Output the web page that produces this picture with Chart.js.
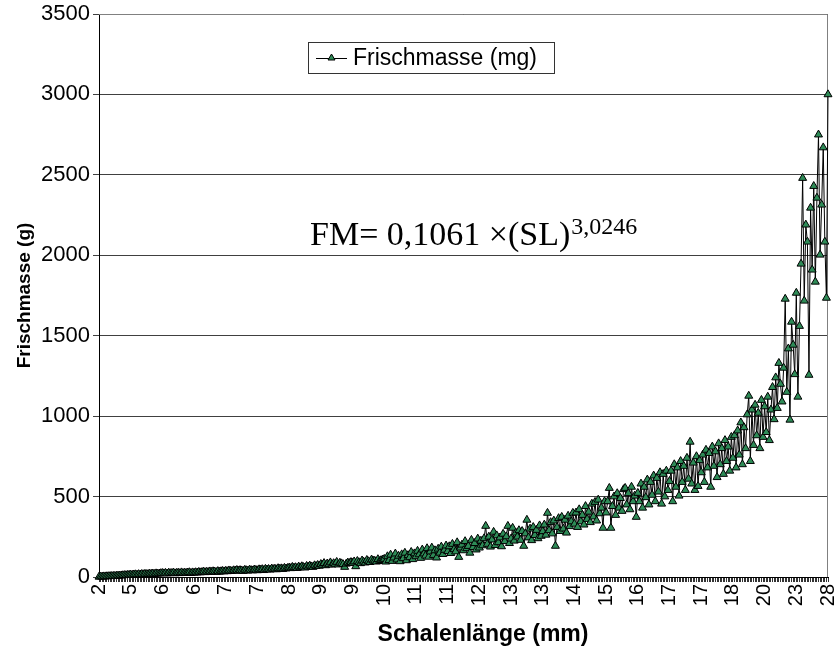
<!DOCTYPE html>
<html lang="de">
<head>
<meta charset="UTF-8">
<title>Frischmasse</title>
<script src="https://cdn.jsdelivr.net/npm/chart.js"></script>
<style>
  html, body { margin: 0; padding: 0; background: #fff; }
  #wrap { width: 834px; height: 650px; }
</style>
</head>
<body>
<div id="wrap"><canvas id="myChart" width="834" height="650"></canvas></div>
<script>
// Schalenlaenge (mm) shown under every 20th point
const tickLabels = ['2','5','6','6','7','7','8','9','9','10','11','11','12','13','13','14','15','16','17','17','18','20','23','28'];
const pointsPerTick = 20;
const yTicks = [0, 500, 1000, 1500, 2000, 2500, 3000, 3500];

// Frischmasse (mg), sorted by shell length
const masses = [
  1,2,2,3,3,4,4,5,5,6,6,7,8,8,9,10,11,11,12,13,
  14,13,15,16,14,17,15,18,16,19,17,18,20,19,21,18,22,20,21,23,
  24,22,25,21,26,23,24,27,22,25,26,23,28,24,26,25,27,29,24,28,
  26,29,27,31,28,30,33,29,32,30,34,31,35,33,30,36,32,35,37,34,
  38,35,40,37,36,41,39,43,38,42,40,37,44,41,39,45,42,40,46,43,
  41,47,44,48,42,50,46,49,45,52,48,51,47,54,50,53,49,56,52,55,
  58,54,62,57,60,55,64,59,66,61,58,68,63,70,65,62,72,67,74,69,
  80,75,86,72,83,78,90,76,85,81,93,77,88,84,79,62,82,89,86,92,
  87,96,66,99,91,85,102,94,89,105,97,92,108,101,100,95,110,98,104,107,
  112,95,128,104,138,99,120,145,108,131,97,140,116,150,103,135,122,155,110,146,
  128,162,140,118,170,145,132,178,125,158,182,136,165,120,175,150,188,142,168,195,
  160,190,148,205,172,158,215,124,182,200,165,222,178,192,150,230,185,210,170,238,
  182,225,196,240,317,205,250,188,232,280,198,258,215,245,190,268,222,252,317,210,
  238,305,225,275,250,290,230,285,193,270,355,245,300,228,310,260,292,240,320,255,
  284,325,262,398,290,340,270,350,193,310,365,285,373,300,355,275,380,315,345,398,
  330,400,310,420,345,385,325,440,360,405,340,455,375,466,350,480,395,430,305,470,
  400,470,553,305,440,500,385,520,430,490,410,545,553,450,520,420,560,470,505,373,
  522,470,580,430,560,495,605,450,590,510,630,470,615,530,650,455,640,500,660,540,
  596,660,470,700,560,680,505,720,590,690,540,740,610,840,580,710,540,750,565,725,
  650,760,590,790,680,770,560,810,690,780,620,830,700,800,640,850,720,810,660,870,
  740,880,680,910,760,960,700,930,800,1010,1126,720,1040,820,1070,880,1020,800,1100,870,
  1060,900,1120,850,1040,1180,980,1240,1050,1330,1200,1090,1300,1729,1150,1420,977,1586,1443,1260,
  1766,1120,1560,1947,2480,1717,2190,2084,1256,2295,1910,2430,1835,2357,2750,2003,2314,2670,2084,1735,
  3000
];

const categories = masses.map((m, i) => i % pointsPerTick === 0 ? tickLabels[i / pointsPerTick] : '');

const seriesName = 'Frischmasse (mg)';
const xTitle = 'Schalenlänge (mm)';
const markerGreen = '#2e8b57';
const sans = '"Liberation Sans", Arial, sans-serif';
const serif = '"Liberation Serif", "Times New Roman", serif';

// legend box, formula text, x title and plot frame
const extras = {
  id: 'extras',
  beforeDatasetsDraw(chart) {
    const {ctx, chartArea: a} = chart;
    ctx.save();
    ctx.strokeStyle = '#808080';
    ctx.lineWidth = 1;
    ctx.beginPath();
    ctx.moveTo(a.left, a.top + 0.5);
    ctx.lineTo(a.right - 0.5, a.top + 0.5);
    ctx.lineTo(a.right - 0.5, a.bottom);
    ctx.stroke();
    ctx.restore();
  },
  afterDraw(chart) {
    const ctx = chart.ctx;
    ctx.save();
    // legend
    ctx.fillStyle = '#fff';
    ctx.fillRect(308.5, 42.5, 246, 31);
    ctx.strokeStyle = '#333';
    ctx.lineWidth = 1;
    ctx.strokeRect(308.5, 42.5, 246, 31);
    ctx.strokeStyle = '#000';
    ctx.beginPath();
    ctx.moveTo(316, 58.5);
    ctx.lineTo(347, 58.5);
    ctx.stroke();
    ctx.fillStyle = markerGreen;
    ctx.beginPath();
    ctx.moveTo(331.5, 54); ctx.lineTo(335, 60); ctx.lineTo(328, 60); ctx.closePath();
    ctx.fill(); ctx.stroke();
    ctx.fillStyle = '#000';
    ctx.font = '23px ' + sans;
    ctx.textBaseline = 'middle';
    ctx.textAlign = 'left';
    ctx.fillText(seriesName, 353, 59);
    // x axis title
    ctx.textAlign = 'center';
    ctx.font = 'bold 23px ' + sans;
    ctx.fillText(xTitle, 483, 635);
    // power-law fit
    ctx.textAlign = 'left';
    ctx.textBaseline = 'alphabetic';
    ctx.font = '34px ' + serif;
    const base = 'FM= 0,1061 \u00d7(SL)';
    ctx.fillText(base, 310, 245);
    const w = ctx.measureText(base).width;
    ctx.font = '24px ' + serif;
    ctx.fillText('3,0246', 310 + w + 1, 234);
    ctx.restore();
  }
};

new Chart(document.getElementById('myChart'), {
  type: 'line',
  data: {
    labels: categories,
    datasets: [{
      label: seriesName,
      data: masses,
      borderColor: '#000',
      borderWidth: 1,
      tension: 0,
      pointStyle: 'triangle',
      pointRadius: 4.6,
      pointBackgroundColor: markerGreen,
      pointBorderColor: '#000',
      pointBorderWidth: 1,
      clip: false
    }]
  },
  options: {
    responsive: false,
    animation: false,
    layout: { padding: { left: 0, right: 6, top: 14, bottom: 0 } },
    plugins: { legend: { display: false }, tooltip: { enabled: false } },
    scales: {
      x: {
        type: 'category',
        offset: false,
        border: { color: '#000', width: 1 },
        grid: { drawOnChartArea: false, drawTicks: true, tickLength: 5, color: '#333' },
        ticks: {
          autoSkip: false, minRotation: 90, maxRotation: 90, padding: 2,
          color: '#000', font: { family: sans, size: 20 }
        },
        afterFit(scale) { scale.height = 73; scale.paddingLeft = 0; scale.paddingRight = 0; }
      },
      y: {
        min: 0, max: 3500,
        afterBuildTicks(scale) { scale.ticks = yTicks.map(v => ({ value: v })); },
        border: { color: '#000', width: 1 },
        grid: { color: '#404040', lineWidth: 1, tickLength: 6 },
        ticks: {
          padding: 3, color: '#000',
          font: { family: sans, size: 22 },
          callback: v => String(v)
        },
        title: {
          display: true, text: 'Frischmasse (g)', color: '#000',
          font: { family: sans, size: 19, weight: 'bold' },
          padding: { top: 13, bottom: 0 }
        },
        afterFit(scale) { scale.width = 99; scale.paddingTop = 0; scale.paddingBottom = 0; }
      }
    }
  },
  plugins: [extras]
});
</script>
</body>
</html>
